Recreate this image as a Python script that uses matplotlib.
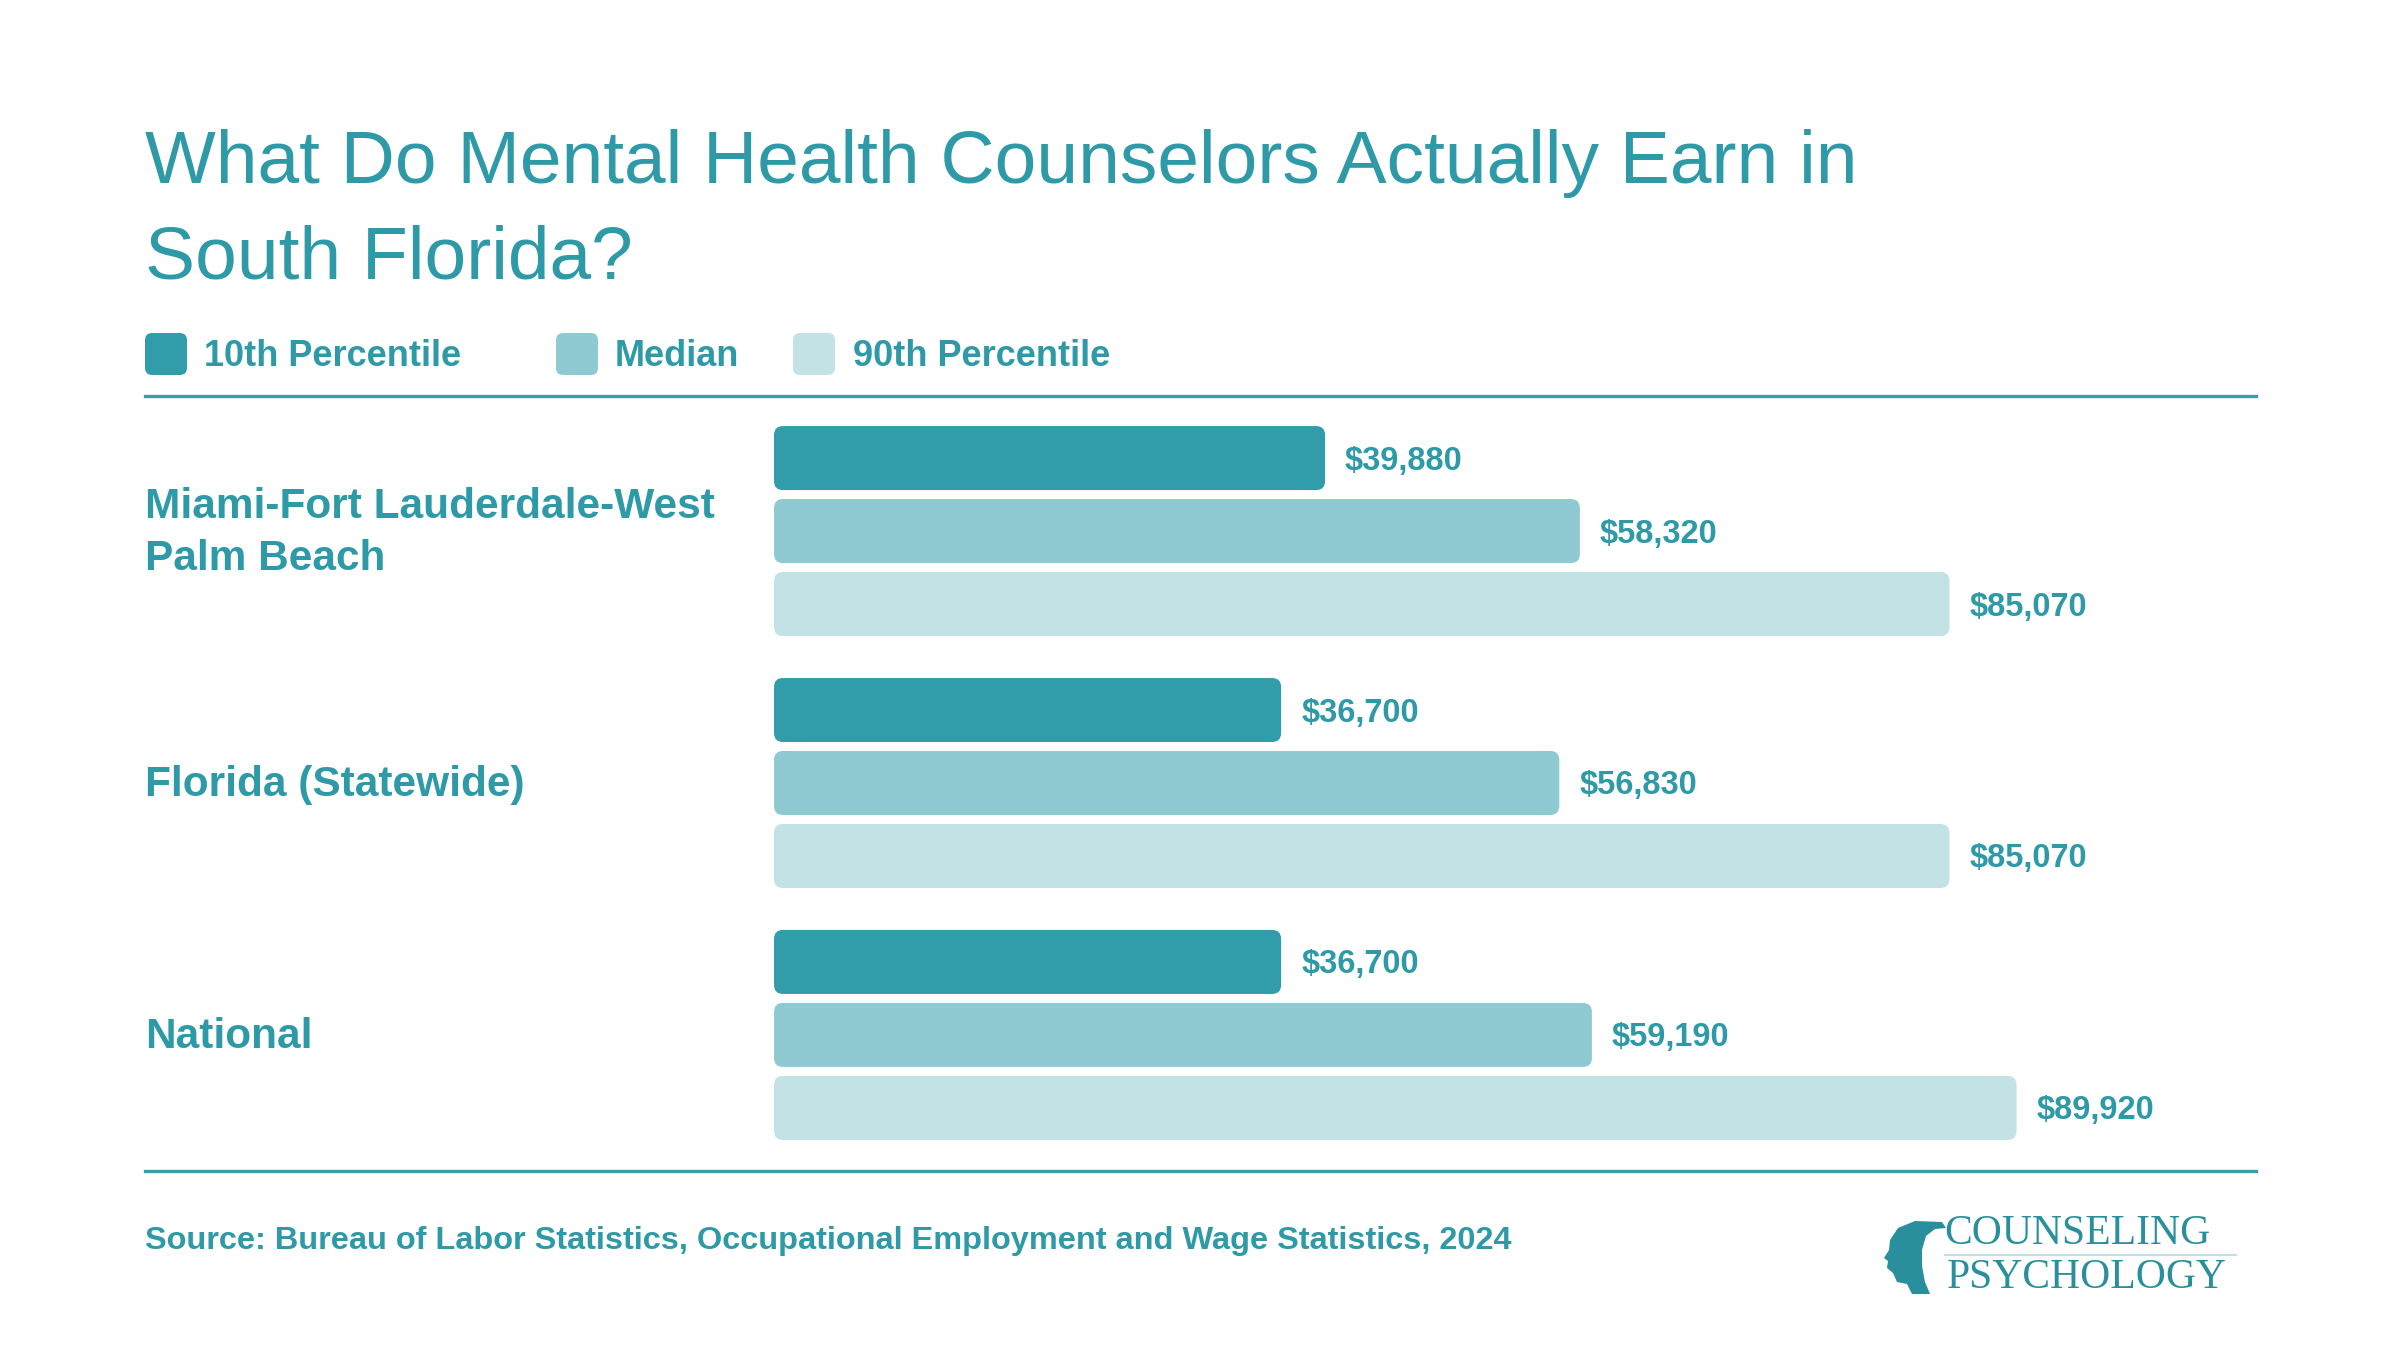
import matplotlib
matplotlib.use("Agg")
import matplotlib.pyplot as plt
from matplotlib.patches import FancyBboxPatch, Polygon
from matplotlib.lines import Line2D

# data
regions = ["Miami-Fort Lauderdale-West\nPalm Beach", "Florida (Statewide)", "National"]
series_names = ["10th Percentile", "Median", "90th Percentile"]
pct10 = [39880, 36700, 36700]
median = [58320, 56830, 59190]
pct90 = [85070, 85070, 89920]

TEXT = "#2F9AA7"
RULE = "#3A9EAA"
COLORS = ["#319DAA", "#8FC9D1", "#C2E2E6"]
W, H = 2400, 1350

plt.rcParams["font.family"] = ["Liberation Sans", "DejaVu Sans"]

fig = plt.figure(figsize=(24, 13.5), dpi=100)
fig.patch.set_facecolor("white")


def fy(px):
    return 1 - px / H


def fx(px):
    return px / W


# title
fig.text(fx(145), fy(164), "What Do Mental Health Counselors Actually Earn in",
         fontsize=54, color=TEXT, va="center", ha="left")
fig.text(fx(145), fy(259), "South Florida?",
         fontsize=54, color=TEXT, va="center", ha="left")

# legend
legend_x = [(145, 204), (556, 615), (793, 853)]
for (sx, tx), name, col in zip(legend_x, series_names, COLORS):
    fig.patches.append(FancyBboxPatch((fx(sx), fy(375)), fx(42), 42 / H,
                                      boxstyle="round,pad=0,rounding_size=0.003",
                                      mutation_aspect=W / H,
                                      transform=fig.transFigure, facecolor=col,
                                      edgecolor="none"))
    fig.text(fx(tx), fy(357), name, fontsize=26, fontweight="bold", color=TEXT,
             va="center", ha="left")

# rules
for ypx in (396, 1171):
    fig.add_artist(Line2D([fx(145), fx(2256)], [fy(ypx), fy(ypx)],
                          transform=fig.transFigure, color=RULE, lw=2.4))

# bars
ax = fig.add_axes([fx(774), fy(1171), fx(2256 - 774), (1171 - 396) / H])
ax.set_xlim(0, 107250)
ax.set_ylim(2.54, -0.536)
ax.axis("off")

step = 73 / 252
bar_h = 64 / 252
px_per_x = (2256 - 774) / 107250
px_per_y = 252
radius_px = 9
for k, (vals, col) in enumerate(zip([pct10, median, pct90], COLORS)):
    ys = [g + (k - 1) * step for g in range(len(regions))]
    bars = ax.barh(ys, vals, height=bar_h, color=col)
    for b, v in zip(bars, vals):
        x0, y0 = b.get_x(), b.get_y()
        bw, bh = b.get_width(), b.get_height()
        b.set_visible(False)
        ax.add_patch(FancyBboxPatch((x0, y0), bw, bh,
                                    boxstyle=f"round,pad=0,rounding_size={radius_px / px_per_x}",
                                    mutation_aspect=(1 / px_per_y) / (1 / px_per_x),
                                    facecolor=col, edgecolor="none"))
        ax.text(v + 20 / px_per_x, y0 + bh / 2 + 3 / px_per_y, f"${v:,}", fontsize=23.5,
                fontweight="bold", color=TEXT, va="center", ha="left")

# category labels
for g, name in enumerate(regions):
    ypx = 396 + (g + 0.536) * 252 + 2
    fig.text(fx(145), fy(ypx), name, fontsize=30.5, fontweight="bold", color=TEXT,
             va="center", ha="left", linespacing=1.38)

# source
fig.text(fx(145), fy(1241), "Source: Bureau of Labor Statistics, Occupational Employment and Wage Statistics, 2024",
         fontsize=23.4, fontweight="bold", color=TEXT, va="center", ha="left")

# logo
fig.text(fx(1944), fy(1234), "COUNSELING", family=["Liberation Serif", "DejaVu Serif"],
         fontsize=30, color="#2A8F9C", va="center", ha="left")
fig.text(fx(1947), fy(1278), "PSYCHOLOGY", family=["Liberation Serif", "DejaVu Serif"],
         fontsize=30, color="#2A8F9C", va="center", ha="left")
fig.add_artist(Line2D([fx(1945), fx(2236)], [fy(1255), fy(1255)],
                      transform=fig.transFigure, color="#BFE0E4", lw=1.5))
head = [(1942, 1222), (1915, 1221), (1898, 1228), (1890, 1240), (1889, 1250),
        (1884, 1258), (1888, 1261), (1887, 1268), (1893, 1273), (1897, 1282),
        (1907, 1284), (1912, 1294), (1930, 1294), (1925, 1282), (1922, 1266),
        (1922, 1250), (1926, 1236), (1935, 1229), (1946, 1228)]
fig.patches.append(Polygon([(fx(x), fy(y)) for x, y in head], closed=True,
                           transform=fig.transFigure, facecolor="#2A8F9C",
                           edgecolor="none"))

fig.savefig("out.png", dpi=100, facecolor="white")
